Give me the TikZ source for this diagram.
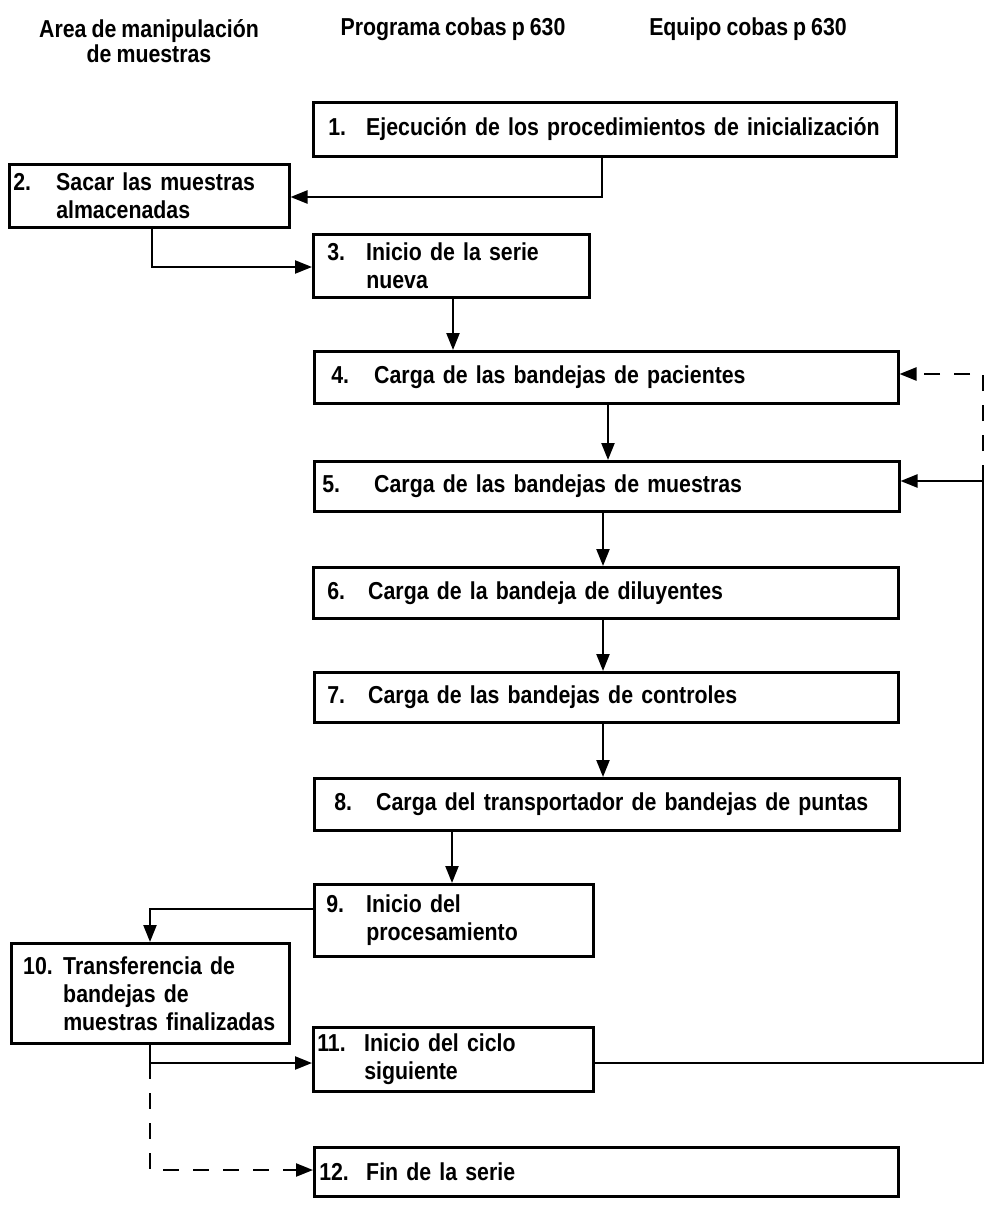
\documentclass[tikz,border=0pt]{standalone}
\usepackage{fontspec}
\setmainfont{Liberation Sans}[FakeStretch=0.87, WordSpace=0.85]
\usetikzlibrary{arrows.meta}
\newcommand{\nb}[2]{\makebox[#1pt][l]{#2}}
\newcommand{\ind}[1]{\hspace*{#1pt}}
\begin{document}
\begin{tikzpicture}[x=1pt,y=-1pt,
  box/.style={draw, line width=2.5pt, rectangle, anchor=north west, align=left, inner ysep=0pt, font=\fontsize{24.5}{28}\selectfont\bfseries},
  hdr/.style={font=\fontsize{24.5}{25}\selectfont\bfseries, align=center, inner sep=0pt},
  conn/.style={line width=2.3pt, -{Triangle[length=17pt,width=13pt]}},
  dconn/.style={conn, dash pattern=on 16pt off 14pt}]
\useasboundingbox[fill=white] (0,0) rectangle (990,1210);

% headers
\node[hdr] (h1) at (149,41) {Area de manipulación\\de muestras};
\node[hdr] (h2) at (453,29) {Programa cobas p 630};
\node[hdr] (h3) at (748,29) {Equipo cobas p 630};

% boxes
\node[box, minimum width=583pt, minimum height=54pt, inner xsep=15pt, text width=553pt] (b1) at (312,101)
  {\nb{38}{1.}Ejecución de los procedimientos de inicialización};
\node[box, minimum width=280pt, minimum height=63pt, inner xsep=4pt, text width=272pt] (b2) at (8,163)
  {\nb{43}{2.}Sacar las muestras\\\ind{43}almacenadas};
\node[box, minimum width=276pt, minimum height=63pt, inner xsep=14pt, text width=248pt] (b3) at (312,233)
  {\nb{39}{3.}Inicio de la serie\\\ind{39}nueva};
\node[box, minimum width=584pt, minimum height=52pt, inner xsep=17pt, text width=550pt] (b4) at (313,350)
  {\nb{43}{4.}Carga de las bandejas de pacientes};
\node[box, minimum width=585pt, minimum height=50pt, inner xsep=8pt, text width=569pt] (b5) at (313,460)
  {\nb{52}{5.}Carga de las bandejas de muestras};
\node[box, minimum width=585pt, minimum height=51pt, inner xsep=14pt, text width=557pt] (b6) at (312,566)
  {\nb{41}{6.}Carga de la bandeja de diluyentes};
\node[box, minimum width=584pt, minimum height=50pt, inner xsep=13pt, text width=558pt] (b7) at (313,671)
  {\nb{41}{7.}Carga de las bandejas de controles};
\node[box, minimum width=585pt, minimum height=52pt, inner xsep=20pt, text width=545pt] (b8) at (313,777)
  {\nb{42}{8.}Carga del transportador de bandejas de puntas};
\node[box, minimum width=279pt, minimum height=72pt, inner xsep=12pt, text width=255pt] (b9) at (313,883)
  {\nb{40}{9.}Inicio del\\\ind{40}procesamiento};
\node[box, minimum width=278pt, minimum height=100pt, inner xsep=12pt, text width=254pt] (b10) at (10,942)
  {\nb{40}{10.}Transferencia de\\\ind{40}bandejas de\\\ind{40}muestras finalizadas};
\node[box, minimum width=280pt, minimum height=64pt, inner xsep=4pt, text width=272pt] (b11) at (312,1026)
  {\nb{47}{11.}Inicio del ciclo\\\ind{47}siguiente};
\node[box, minimum width=584pt, minimum height=49pt, inner xsep=5pt, text width=574pt] (b12) at (313,1146)
  {\nb{47}{12.}Fin de la serie};

% bend / column coordinates
\coordinate (j12) at (602,197);
\coordinate (j23) at (152,267);
\coordinate (x34) at (453,0);
\coordinate (x45) at (608,0);
\coordinate (x56) at (603,0);
\coordinate (x89) at (452,0);
\coordinate (j910) at (150,909);
\coordinate (j1011) at (150,1063);
\coordinate (j1012) at (150,1170);
\coordinate (jR1) at (983,1063);
\coordinate (jR2) at (983,481);
\coordinate (jR3) at (983,374);

% connectors
\draw[conn] (b1.south -| j12) -- (j12) -- (b2.east |- j12);
\draw[conn] (b2.south -| j23) -- (j23) -- (b3.west |- j23);
\draw[conn] (b3.south -| x34) -- (b4.north -| x34);
\draw[conn] (b4.south -| x45) -- (b5.north -| x45);
\draw[conn] (b5.south -| x56) -- (b6.north -| x56);
\draw[conn] (b6.south -| x56) -- (b7.north -| x56);
\draw[conn] (b7.south -| x56) -- (b8.north -| x56);
\draw[conn] (b8.south -| x89) -- (b9.north -| x89);
\draw[conn] (b9.west |- j910) -- (j910) -- (b10.north -| j910);
\draw[conn] (b10.south -| j1011) -- (j1011) -- (b11.west |- j1011);
\draw[dconn] (j1011) -- (j1012) -- (b12.west |- j1012);
\draw[conn] (b11.east |- jR1) -- (jR1) -- (jR2) -- (b5.east |- jR2);
\draw[dconn] (jR2) -- (jR3) -- (b4.east |- jR3);
\end{tikzpicture}
\end{document}
